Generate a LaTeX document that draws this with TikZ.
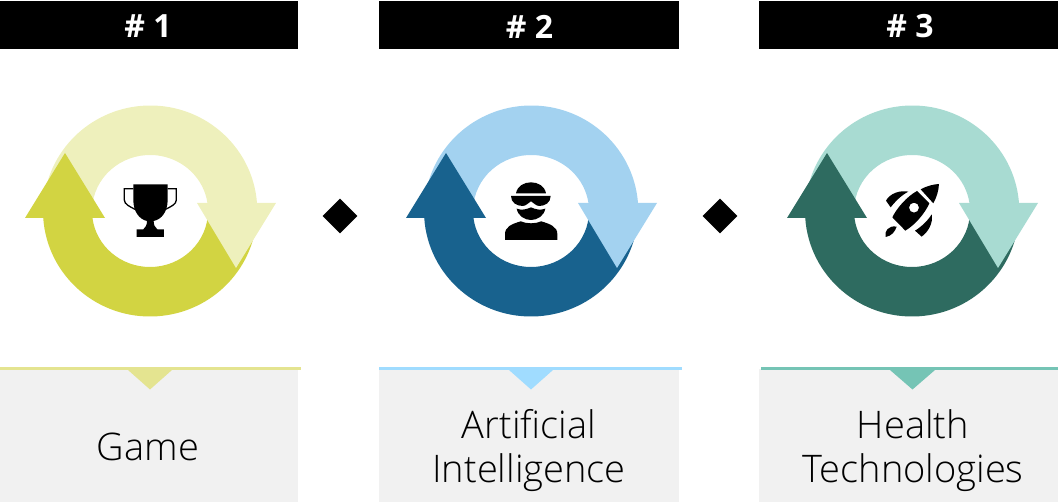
\documentclass[tikz,border=0pt]{standalone}
\usepackage{fontspec}
\setmainfont{Open Sans}
\newfontfamily\lightface{Open Sans Light}
\definecolor{lightA}{HTML}{EEF0BC}\definecolor{darkA}{HTML}{D2D442}\definecolor{lineA}{HTML}{E4E490}
\definecolor{lightB}{HTML}{A3D2F0}\definecolor{darkB}{HTML}{18628E}\definecolor{lineB}{HTML}{A0DCFF}
\definecolor{lightC}{HTML}{A8DBD2}\definecolor{darkC}{HTML}{2E6B60}\definecolor{lineC}{HTML}{75C4B5}
\definecolor{panel}{HTML}{F1F1F1}
\usetikzlibrary{shapes.geometric}
\tikzset{
 header/.style={fill=black,text=white,inner sep=0pt,minimum height=48pt,anchor=center},
 headtext/.style={text=white,font=\fontsize{32}{32}\selectfont\bfseries,inner sep=0pt,anchor=center},
 caption/.style={font=\lightface\fontsize{38}{44}\selectfont,align=center,text=black,inner sep=0pt,anchor=center},
 sep/.style={fill=black,diamond,minimum width=35pt,minimum height=35pt,inner sep=0pt},
}
\newcommand{\cycle}[2]{%
 \fill[#2] (-106.76,-7) arc[start angle=183.8,end angle=360,x radius=107,y radius=105.5] -- (58,0) arc[start angle=360,end angle=187.2,x radius=58,y radius=56] -- cycle;
 \fill[#1] (107,8) arc[start angle=4.35,end angle=176,x radius=107,y radius=105.5] -- (-57.4,7.8) arc[start angle=172,end angle=8.2,x radius=58,y radius=56] -- cycle;
 \fill[#2] (-125,-7) -- (-85,58) -- (-45,-7) -- cycle;
 \fill[#1] (47,8) -- (126,8) -- (86,-57) -- cycle;
}
\begin{document}
\begin{tikzpicture}[x=1pt,y=1pt]
\useasboundingbox (0,0) rectangle (1058,502);
% headers
\node[header,minimum width=298pt] (h1) at (149,477) {};
\node[header,minimum width=300pt] (h2) at (529,477) {};
\node[header,minimum width=299pt] (h3) at (908.5,477) {};
\node[headtext] (t1) at (148,475.5) {\# 1};
\node[headtext] (t2) at (529.5,475.5) {\# 2};
\node[headtext] (t3) at (910,475.5) {\# 3};
% panels
\fill[panel] (0,0) rectangle (298,133);
\fill[panel] (379,0) rectangle (679,133);
\fill[panel] (759,0) rectangle (1058,133);
\draw[lineA,line width=2.5pt] (0,133.5) -- (301,133.5);
\draw[lineB,line width=2.5pt] (379,133.5) -- (682,133.5);
\draw[lineC,line width=2.5pt] (761,133.5) -- (1058,133.5);
\fill[lineA] (128,132) -- (172,132) -- (150,112.5) -- cycle;
\fill[lineB] (509,132) -- (553,132) -- (531,112.5) -- cycle;
\fill[lineC] (890,132) -- (935,132) -- (912.5,112.5) -- cycle;
\node[caption] (c1) at (148,55) {Game};
\node[caption] (c2) at (529,51.5) {Artificial\\Intelligence};
\node[caption] (c3) at (913,51.5) {Health\\Technologies};
\node[sep] (d1) at (340,286) {};
\node[sep] (d2) at (720,286) {};
% cycle 1 with trophy
\begin{scope}[shift={(150,291)}]
 \cycle{lightA}{darkA}
 \begin{scope}[shift={(-50,41)},x=.3333pt,y=-.3333pt]
  \fill (100,43) -- (203,43) -- (203,90) .. controls (203,125) and (185,148) .. (161,153) .. controls (161,165) and (165,172) .. (172,178) -- (192,178) -- (192,201) -- (110,201) -- (110,178) -- (130,178) .. controls (137,172) and (141,165) .. (141,153) .. controls (118,148) and (100,125) .. (100,90) -- cycle;
  \draw[line width=1.3pt] (100,56) -- (73,56) -- (73,90) .. controls (73,103) and (90,110) .. (105,118);
  \draw[line width=1.3pt] (203,56) -- (229,56) -- (229,90) .. controls (229,103) and (212,110) .. (197,118);
 \end{scope}
\end{scope}
% cycle 2 with person
\begin{scope}[shift={(531,291)}]
 \cycle{lightB}{darkB}
 \begin{scope}[shift={(-51,51)},x=.3333pt,y=-.3333pt]
  \fill (108,100) .. controls (112,78) and (132,67) .. (153,67) .. controls (174,67) and (194,78) .. (198,100) -- cycle;
  \fill (93,108) -- (212,108) .. controls (212,128) and (195,138) .. (178,138) .. controls (168,138) and (160,128) .. (153,124) .. controls (146,128) and (138,138) .. (128,138) .. controls (110,138) and (93,128) .. (93,108) -- cycle;
  \fill (110,146) .. controls (125,152) and (140,148) .. (153,142) .. controls (166,148) and (180,152) .. (196,146) .. controls (192,168) and (172,180) .. (153,180) .. controls (134,180) and (114,168) .. (110,146) -- cycle;
  \fill (122,184) .. controls (140,192) and (166,192) .. (184,184) .. controls (210,192) and (232,200) .. (232,222) -- (232,240) -- (75,240) -- (75,222) .. controls (75,200) and (96,192) .. (122,184) -- cycle;
 \end{scope}
\end{scope}
% cycle 3 with rocket
\begin{scope}[shift={(912,291)}]
 \cycle{lightC}{darkC}
 \begin{scope}[shift={(-52,51)},x=.3333pt,y=-.3333pt]
  \fill (182,88) .. controls (200,78) and (220,73) .. (237,72) .. controls (236,92) and (230,112) .. (220,130) -- cycle;
  \fill[even odd rule] (171,93) -- (208,130) .. controls (195,160) and (165,195) .. (136,212) -- (97,172) .. controls (110,145) and (140,110) .. (171,93) -- cycle (177,143) arc[start angle=0,end angle=360,radius=15];
  \fill (78,122) .. controls (90,100) and (120,90) .. (145,95) .. controls (125,105) and (105,125) .. (92,142) -- cycle;
  \fill (165,212) .. controls (185,200) and (205,180) .. (215,163) .. controls (220,190) and (205,215) .. (185,230) -- cycle;
  \fill (110,200) .. controls (105,215) and (95,228) .. (77,231) .. controls (72,215) and (85,195) .. (110,200) -- cycle;
 \end{scope}
\end{scope}
\end{tikzpicture}
\end{document}
